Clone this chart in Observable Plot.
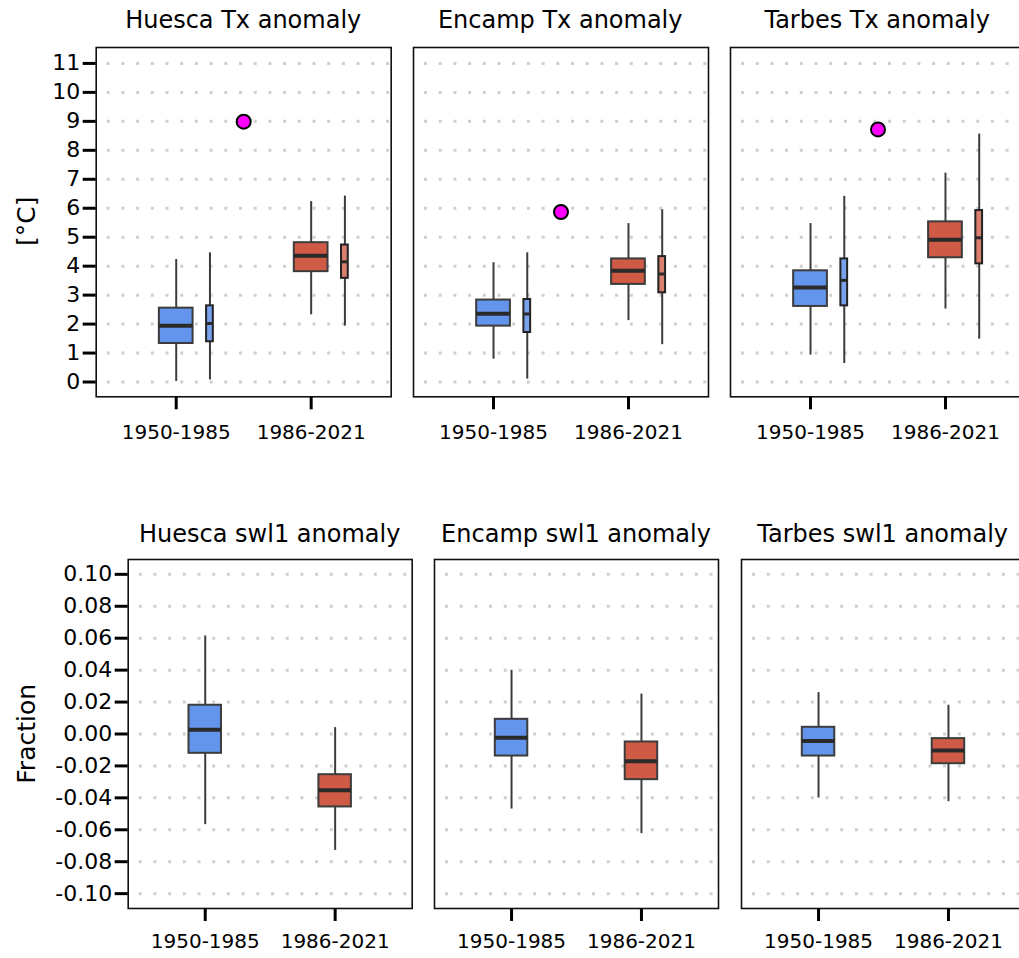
<!DOCTYPE html>
<html>
<head>
<meta charset="utf-8">
<script src="https://cdn.jsdelivr.net/npm/d3@7"></script>
<script src="https://cdn.jsdelivr.net/npm/@observablehq/plot@0.6"></script>
<style>
  html, body { margin: 0; padding: 0; background: #fff; }
  #chart { position: relative; width: 1019px; height: 958px; overflow: hidden; font-family: "DejaVu Sans", sans-serif; }
  #chart svg { position: absolute; }
</style>
</head>
<body>
<div id="chart"></div>
<script>
// ---------- data ----------
const periods = ["1950-1985", "1986-2021"];
const stations = ["Huesca", "Encamp", "Tarbes"];
const txTicks = [0, 1, 2, 3, 4, 5, 6, 7, 8, 9, 10, 11];
const swlTicks = [-0.10, -0.08, -0.06, -0.04, -0.02, 0.00, 0.02, 0.04, 0.06, 0.08, 0.10];
const swlTickLabels = ["-0.10", "-0.08", "-0.06", "-0.04", "-0.02", "0.00", "0.02", "0.04", "0.06", "0.08", "0.10"];

// box statistics per period: [low whisker, Q1, median, Q3, high whisker]
const txHuesca = [[0.02, 1.33, 1.94, 2.55, 4.23], [2.32, 3.81, 4.36, 4.81, 6.23]];
const txEncamp = [[0.79, 1.93, 2.36, 2.83, 4.12], [2.12, 3.37, 3.84, 4.25, 5.47]];
const txTarbes = [[0.93, 2.61, 3.26, 3.84, 5.47], [2.52, 4.29, 4.91, 5.53, 7.21]];
// narrow companion boxes
const txHuescaNarrow = [[0.07, 1.39, 2.02, 2.63, 4.46], [1.93, 3.58, 4.15, 4.73, 6.42]];
const txEncampNarrow = [[0.10, 1.71, 2.35, 2.85, 4.46], [1.29, 3.08, 3.73, 4.33, 5.95]];
const txTarbesNarrow = [[0.64, 2.63, 3.51, 4.25, 6.41], [1.48, 4.08, 4.98, 5.92, 8.56]];
// single highlighted values (magenta dots)
const txExtreme = [8.99, 5.87, 8.72];

const swlHuesca = [[-0.0568, -0.0121, 0.0027, 0.0180, 0.0614], [-0.0729, -0.0457, -0.0353, -0.0255, 0.0040]];
const swlEncamp = [[-0.0470, -0.0138, -0.0023, 0.0092, 0.0399], [-0.0624, -0.0286, -0.0171, -0.0050, 0.0250]];
const swlTarbes = [[-0.0401, -0.0138, -0.0044, 0.0042, 0.0259], [-0.0424, -0.0186, -0.0104, -0.0029, 0.0180]];

// ---------- helpers ----------
const blue = "#6495ed", red = "#cf5a45";
const blueLight = "#78a1ee", redLight = "#d9806f";
const edge = "#3c3c3c";
const xDomain = [-0.593, 1.593];

function toRows(stats) {
  return stats.map((s, i) => ({x: i, lo: s[0], q1: s[1], med: s[2], q3: s[3], hi: s[4]}));
}

function boxMarks(rows, offset, half, fills, medWidth, boxStroke) {
  return [
    Plot.ruleX(rows, {x: d => d.x + offset, y1: "lo", y2: "hi", stroke: edge, strokeWidth: 2}),
    Plot.rect(rows, {x1: d => d.x + offset - half, x2: d => d.x + offset + half, y1: "q1", y2: "q3",
      fill: d => fills[d.x], stroke: boxStroke, strokeWidth: 2}),
    Plot.ruleY(rows, {x1: d => d.x + offset - half, x2: d => d.x + offset + half, y: "med",
      stroke: "#2a2a2a", strokeWidth: medWidth})
  ];
}

const container = document.getElementById("chart");

function addPanel(cfg) {
  const ml = cfg.showY ? cfg.left : 6;
  const mr = 6, mt = 6, mb = 70;
  const marks = [
    Plot.ruleY(cfg.yTicks, {stroke: "#cfcfcf", strokeWidth: 3, strokeDasharray: "3,11.7", strokeDashoffset: -11}),
    Plot.frame({stroke: "#111", strokeWidth: 1.6}),
    ...boxMarks(toRows(cfg.stats), 0, 0.125, [blue, red], 4, edge)
  ];
  if (cfg.narrow) marks.push(...boxMarks(toRows(cfg.narrow), 0.25, 0.025, [blueLight, redLight], 3, "#222"));
  if (cfg.point != null) {
    marks.push(Plot.dot([cfg.point], {x: () => 0.5, y: d => d, r: 7, fill: "#ff00ff", stroke: "#000", strokeWidth: 2}));
  }
  marks.push(Plot.axisX([0, 1], {tickSize: 13, tickPadding: cfg.xPad, strokeWidth: 3, fontSize: 20,
    tickFormat: d => periods[d], label: null}));
  if (cfg.showY) {
    marks.push(Plot.axisY(cfg.yTicks, {tickSize: 13, tickPadding: 3, strokeWidth: 3, fontSize: 22,
      tickFormat: cfg.yFormat, label: null}));
  }
  const svg = Plot.plot({
    width: ml + cfg.w + mr,
    height: mt + cfg.h + mb,
    marginLeft: ml, marginRight: mr, marginTop: mt, marginBottom: mb,
    x: {domain: xDomain},
    y: cfg.showY ? {domain: cfg.yDomain} : {domain: cfg.yDomain, axis: null},
    style: {fontFamily: "DejaVu Sans", background: "transparent", color: "#000", overflow: "visible"},
    marks
  });
  svg.style.left = (cfg.left - ml) + "px";
  svg.style.top = (cfg.top - mt) + "px";
  container.appendChild(svg);
}

// ---------- panels ----------
const txStats = [txHuesca, txEncamp, txTarbes];
const txNarrow = [txHuescaNarrow, txEncampNarrow, txTarbesNarrow];
const swlStats = [swlHuesca, swlEncamp, swlTarbes];
const topLefts = [95.7, 412.7, 729.7];
const botLefts = [127.7, 434, 740.7];
const txFormat = d => String(d);
const swlFormat = d => swlTickLabels[swlTicks.indexOf(d)];

stations.forEach((s, i) => {
  addPanel({stats: txStats[i], narrow: txNarrow[i], point: txExtreme[i],
    yDomain: [-0.51, 11.55], yTicks: txTicks, yFormat: txFormat,
    left: topLefts[i], top: 46.7, w: 295, h: 349.3, showY: i === 0, xPad: 15});
  addPanel({stats: swlStats[i], narrow: null, point: null,
    yDomain: [-0.1093, 0.1093], yTicks: swlTicks, yFormat: swlFormat,
    left: botLefts[i], top: 559.3, w: 284, h: 349, showY: i === 0, xPad: 12});
});

// ---------- titles and axis labels ----------
const overlay = d3.select(container).append("svg")
  .attr("width", 1019).attr("height", 958)
  .style("left", "0px").style("top", "0px")
  .style("font-family", "DejaVu Sans");
stations.forEach((s, i) => {
  overlay.append("text").attr("x", topLefts[i] + 147.5).attr("y", 28.3)
    .attr("text-anchor", "middle").attr("font-size", 24).text(s + " Tx anomaly");
  overlay.append("text").attr("x", botLefts[i] + 142).attr("y", 541.7)
    .attr("text-anchor", "middle").attr("font-size", 24).text(s + " swl1 anomaly");
});
overlay.append("text").attr("transform", "translate(35,221.3) rotate(-90)")
  .attr("text-anchor", "middle").attr("font-size", 25).text("[°C]");
overlay.append("text").attr("transform", "translate(35,733.8) rotate(-90)")
  .attr("text-anchor", "middle").attr("font-size", 25).text("Fraction");
</script>
</body>
</html>
